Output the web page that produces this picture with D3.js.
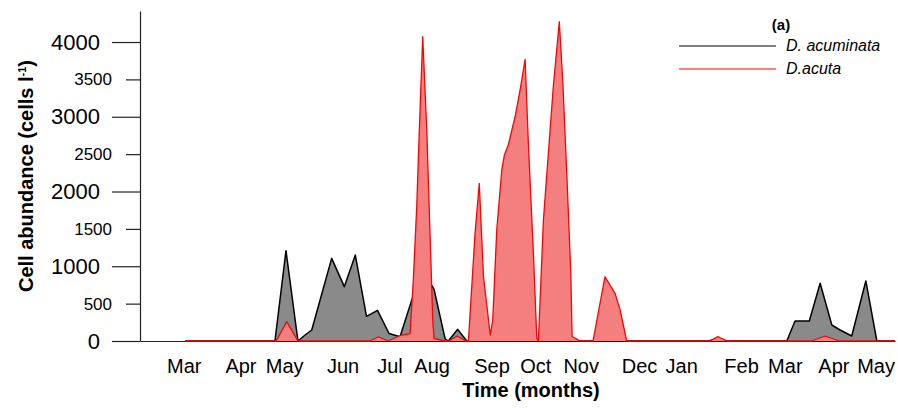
<!DOCTYPE html>
<html>
<head>
<meta charset="utf-8">
<script src="https://cdn.jsdelivr.net/npm/d3@7"></script>
<style>
  html, body { margin: 0; padding: 0; background: #fff; }
  svg { display: block; }
  text { font-family: "Liberation Sans", Arial, sans-serif; fill: #000; }
</style>
</head>
<body>
<svg id="chart" width="898" height="408"></svg>
<script>
// ---- data (x = days from start of time axis) ----
const monthLabels = ["Mar","Apr","May","Jun","Jul","Aug","Sep","Oct","Nov","Dec","Jan","Feb","Mar","Apr","May"];
const monthDays   = [27, 62, 89, 125, 154, 180, 217, 244, 272, 308, 334, 371, 398, 428, 454];

const yMajorTicks = [0, 1000, 2000, 3000, 4000];
const yMinorTicks = [500, 1500, 2500, 3500];

const acuminataDays   = [28, 83.3, 90.1, 97.5, 101.9, 106.0, 118.3, 126.1, 132.9, 139.8, 146.6, 153.7, 160.5, 167.9, 175.9, 181.5, 188.3, 190.3, 196.1, 201.7, 351.2, 356.6, 362.2, 399.2, 404.3, 413.1, 419.8, 427.0, 432.1, 439.3, 448.0, 454.8, 466.0];
const acuminataValues = [0, 0, 1208, 0, 80, 147, 1106, 727, 1150, 330, 410, 100, 57, 560, 900, 690, 30, 0, 156, 0, 0, 40, 0, 0, 268, 268, 772, 214, 147, 67, 803, 0, 0];

const acutaDays   = [27.8, 84.0, 90.6, 97.5, 142.0, 147.1, 153.1, 161.5, 166.7, 168.7, 170.8, 172.4, 174.5, 177.0, 179.0, 180.7, 181.5, 188.3, 190.7, 195.7, 201.2, 202.7, 206.8, 209.4, 212.0, 216.2, 217.7, 220.2, 223.3, 224.9, 227.3, 231.5, 234.6, 237.7, 239.7, 242.8, 244.9, 245.9, 249.0, 255.1, 258.8, 260.9, 263.4, 265.9, 266.7, 270.4, 271.6, 279.6, 287.0, 293.2, 296.3, 300.4, 351.9, 356.6, 362.2, 414.6, 422.8, 431.7, 466.0];
const acutaValues = [0, 0, 260, 0, 0, 57, 0, 80, 100, 816, 1797, 2823, 4071, 2823, 1440, 280, 36, 0, 0, 67, 0, 0, 1440, 2110, 860, 80, 281, 1485, 2288, 2488, 2622, 3000, 3358, 3768, 2650, 1177, 40, 0, 1619, 3402, 4272, 3492, 2247, 910, 60, 15, 0, 0, 860, 638, 420, 0, 0, 60, 0, 0, 67, 0, 0];

const seriesNames = ["D. acuminata", "D.acuta"];

// ---- scales ----
const svg = d3.select("#chart");
const x = d3.scaleLinear().domain([0, 466]).range([140, 895]);
const y = d3.scaleLinear().domain([0, 4415]).range([341, 11]);

// ---- x axis ----
const xAxis = d3.axisBottom(x)
  .tickValues(monthDays)
  .tickFormat((d, i) => monthLabels[i])
  .tickSize(0)
  .tickSizeOuter(0);
const gx = svg.append("g").attr("transform", "translate(0,341)").call(xAxis);
gx.select(".domain").attr("stroke", "#222").attr("stroke-width", 1.2);
gx.selectAll("text")
  .attr("y", 32).attr("dy", 0)
  .style("font-size", "20px")
  .style("font-family", "'Liberation Sans', Arial, sans-serif")
  .attr("fill", "#000");

// ---- areas ----
function build(days, vals) { return days.map((d, i) => ({ d, v: vals[i] })); }
const acum = build(acuminataDays, acuminataValues);
const acut = build(acutaDays, acutaValues);

const area = d3.area().x(p => x(p.d)).y0(y(0)).y1(p => y(p.v));
const line = d3.line().x(p => x(p.d)).y(p => y(p.v));

svg.append("path").datum(acum).attr("d", area).attr("fill", "#8a8a8a");
svg.append("path").datum(acum).attr("d", line).attr("fill", "none")
  .attr("stroke", "#000").attr("stroke-width", 1.5).attr("stroke-linejoin", "round");

svg.append("path").datum(acut).attr("d", area).attr("fill", "#f47f7f");
svg.append("path").datum(acut).attr("d", line).attr("fill", "none")
  .attr("stroke", "#ff0000").attr("stroke-width", 1.3).attr("stroke-linejoin", "round");

// ---- y axis ----
const fmt = d3.format("d");
const gyMaj = svg.append("g").attr("transform", "translate(140,0)")
  .call(d3.axisLeft(y).tickValues(yMajorTicks).tickFormat(fmt).tickSize(28).tickPadding(12).tickSizeOuter(0));
gyMaj.selectAll("text").style("font-size", "22px");
gyMaj.selectAll("line").attr("stroke", "#222").attr("stroke-width", 1.2);
gyMaj.select(".domain").attr("stroke", "#222").attr("stroke-width", 1.2);

const gyMin = svg.append("g").attr("transform", "translate(140,0)")
  .call(d3.axisLeft(y).tickValues(yMinorTicks).tickFormat(fmt).tickSize(14).tickPadding(14).tickSizeOuter(0));
gyMin.selectAll("text").style("font-size", "17px");
gyMin.selectAll("line").attr("stroke", "#222").attr("stroke-width", 1.2);
gyMin.select(".domain").remove();

svg.selectAll(".tick text").style("font-family", "'Liberation Sans', Arial, sans-serif").attr("fill", "#000");

// ---- axis titles ----
svg.append("text")
  .attr("x", 531).attr("y", 397)
  .attr("text-anchor", "middle")
  .style("font-size", "20px").style("font-weight", "bold")
  .text("Time (months)");

const yt = svg.append("text")
  .attr("transform", "translate(33,176) rotate(-90)")
  .attr("text-anchor", "middle")
  .style("font-size", "20px").style("font-weight", "bold");
yt.append("tspan").text("Cell abundance (cells l");
yt.append("tspan").attr("dy", -7).style("font-size", "11px").text("-1");
yt.append("tspan").attr("dy", 7).text(")");

// ---- legend ----
svg.append("text").attr("x", 781).attr("y", 30).attr("text-anchor", "middle")
  .style("font-size", "15px").style("font-weight", "bold").text("(a)");
const legColors = ["#000", "#ff0000"];
seriesNames.forEach((name, i) => {
  const ly = 46 + i * 23;
  svg.append("line").attr("x1", 679).attr("x2", 776).attr("y1", ly).attr("y2", ly)
    .attr("stroke", legColors[i]).attr("stroke-width", 1.2);
  svg.append("text").attr("x", 786).attr("y", ly + 5)
    .style("font-size", "16px").style("font-style", "italic").text(name);
});
</script>
</body>
</html>
